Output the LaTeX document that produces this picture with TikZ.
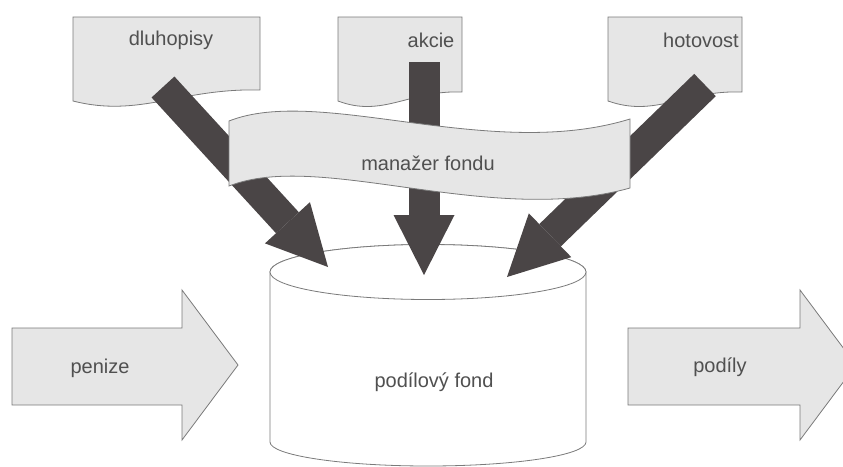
\documentclass[tikz,border=0pt]{standalone}
\usepackage{fontspec}
\setmainfont{Liberation Sans}
\usetikzlibrary{arrows.meta}
\definecolor{docfill}{HTML}{E6E6E6}
\definecolor{docline}{HTML}{7A7A7A}
\definecolor{darkar}{HTML}{4A4546}
\definecolor{txt}{HTML}{505050}
\begin{document}
\begin{tikzpicture}[x=1pt,y=-1pt,
  doc/.style={fill=docfill, draw=docline, line width=0.8pt},
  cyl/.style={fill=white, draw=docline, line width=0.8pt},
  blk/.style={fill=docfill, draw=docline, line width=0.8pt},
  lbl/.style={text=txt, font=\fontsize{20}{24}\selectfont, inner sep=0pt},
  bigarrow/.style={draw=darkar, line width=31pt,
    -{Triangle[length=60pt, width=61pt, line width=0pt, fill=darkar]}},
]
\useasboundingbox (0,0) rectangle (843,466);
\clip (0,0) rectangle (843,466);

% documents
\path[doc] (73,17) -- (260,17) -- (260,90) .. controls (180,88) and (140,118) .. (73,101) -- cycle;
\path[doc] (338,17) -- (462,17) -- (462,92) .. controls (409,90) and (383,118) .. (338,101) -- cycle;
\path[doc] (608,17) -- (742,17) -- (742,92) .. controls (684,90) and (656,118) .. (608,101) -- cycle;

% cylinder
\path[cyl] (270,272) -- (270,442) arc[start angle=180, end angle=360, x radius=158pt, y radius=24pt]
  -- (586,272) arc[start angle=0, end angle=180, x radius=158pt, y radius=27.5pt] -- cycle;
\draw[cyl] (428,272) ellipse [x radius=158pt, y radius=27.5pt];

% connectors
\coordinate (dlS) at (163,87);
\coordinate (dlT) at (328,267);
\coordinate (akS) at (424,62);
\coordinate (akT) at (424,275);
\coordinate (hoS) at (705,85);
\coordinate (hoT) at (507,277);
\draw[bigarrow] (dlS) -- (dlT);
\draw[bigarrow] (akS) -- (akT);
\draw[bigarrow] (hoS) -- (hoT);

% ribbon
\path[doc] (229,121) .. controls (320,85) and (490,162) .. (630,119) -- (630,188)
  .. controls (490,227) and (320,150) .. (229,186) -- cycle;

% block arrows
\path[blk] (12,328) -- (182,328) -- (182,290) -- (238,365) -- (182,440) -- (182,405) -- (12,405) -- cycle;
\path[blk] (628,328) -- (800,328) -- (800,290) -- (856,365) -- (800,440) -- (800,405) -- (628,405) -- cycle;

% labels
\node[lbl] (tdl) at (171,40) {dluhopisy};
\node[lbl] (tak) at (431,40) {akcie};
\node[lbl] (tho) at (701,40) {hotovost};
\node[lbl] (tman) at (428,163) {manažer fondu};
\node[lbl] (tfond) at (434,382) {podílový fond};
\node[lbl] (tpen) at (100,368) {penize};
\node[lbl] (tpod) at (720,367) {podíly};
\end{tikzpicture}
\end{document}
